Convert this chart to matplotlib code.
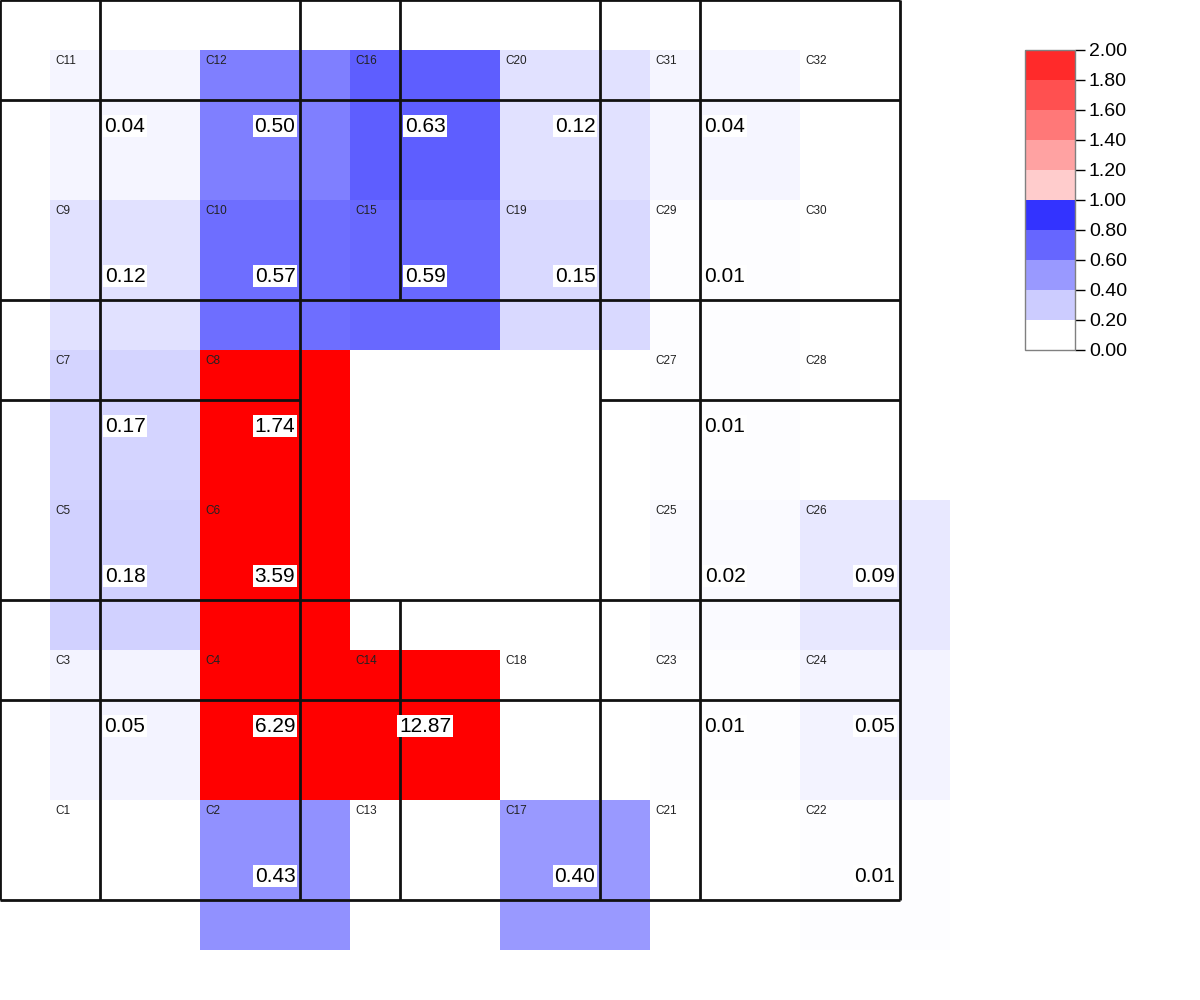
import numpy as np
import matplotlib
matplotlib.use('Agg')
import matplotlib.pyplot as plt
from matplotlib.colors import LinearSegmentedColormap, ListedColormap, BoundaryNorm, Normalize
from matplotlib.cm import ScalarMappable

plt.rcParams['font.family'] = ['Liberation Sans', 'DejaVu Sans']

nan = np.nan

# cell grid, top row first
CELL_NAMES = [
    ["C11", "C12", "C16", "C20", "C31", "C32"],
    ["C9", "C10", "C15", "C19", "C29", "C30"],
    ["C7", "C8", None, None, "C27", "C28"],
    ["C5", "C6", None, None, "C25", "C26"],
    ["C3", "C4", "C14", "C18", "C23", "C24"],
    ["C1", "C2", "C13", "C17", "C21", "C22"],
]
VALUES = [
    [0.04, 0.50, 0.63, 0.12, 0.04, nan],
    [0.12, 0.57, 0.59, 0.15, 0.01, nan],
    [0.17, 1.74, nan, nan, 0.01, nan],
    [0.18, 3.59, nan, nan, 0.02, 0.09],
    [0.05, 6.29, 12.87, nan, 0.01, 0.05],
    [nan, 0.43, nan, 0.40, nan, 0.01],
]

# floor plan walls: (position, start, end)
H_WALLS = [(0, 0, 900), (100, 0, 900), (300, 0, 900), (400, 0, 300), (400, 600, 900),
           (600, 0, 900), (700, 0, 900), (900, 0, 900)]
V_WALLS = [(0, 0, 900), (100, 0, 900), (300, 0, 900), (400, 0, 300), (400, 600, 900),
           (600, 0, 900), (700, 0, 900), (900, 0, 900)]

CB_BOUNDS = [0.0, 0.2, 0.4, 0.6, 0.8, 1.0, 1.2, 1.4, 1.6, 1.8, 2.0]
CB_COLORS = ['#ffffff', '#ccccff', '#9999ff', '#6666ff', '#3333ff',
             '#ffcccc', '#ffa2a2', '#ff7878', '#ff5050', '#ff2a2a']

CELL = 150
ORIGIN = 50

vals = np.ma.masked_invalid(np.array(VALUES, dtype=float))
nrow, ncol = vals.shape
xe = ORIGIN + CELL * np.arange(ncol + 1)
ye = ORIGIN + CELL * np.arange(nrow + 1)

cmap = LinearSegmentedColormap.from_list('wb', ['#ffffff', '#0000ff'])
cmap.set_over('#ff0000')
cmap.set_bad((1, 1, 1, 0))

fig = plt.figure(figsize=(12, 10), dpi=100)
ax = fig.add_axes([0, 0, 1, 1])
ax.set_xlim(0, 1200)
ax.set_ylim(1000, 0)
ax.axis('off')

ax.pcolormesh(xe, ye, vals, cmap=cmap, norm=Normalize(0, 1),
              edgecolors='none', antialiased=False, zorder=1)

for y, x0, x1 in H_WALLS:
    ax.hlines(y, x0, x1, color='#111111', lw=2, zorder=2)
for x, y0, y1 in V_WALLS:
    ax.vlines(x, y0, y1, color='#111111', lw=2, zorder=2)

for i in range(nrow):
    for j in range(ncol):
        name = CELL_NAMES[i][j]
        if name is None:
            continue
        x0, y0 = xe[j], ye[i]
        ax.text(x0 + 5, y0 + 11, name, fontsize=8.5, ha='left', va='center',
                color='#222222', zorder=3)
        v = VALUES[i][j]
        if not np.isnan(v):
            ax.text(x0 + CELL / 2, y0 + CELL / 2 + 1, f'{v:.2f}', fontsize=15,
                    ha='center', va='center', zorder=4,
                    bbox=dict(boxstyle='square,pad=0.08', fc='white', ec='none'))

cax = fig.add_axes([1025 / 1200, 0.65, 50 / 1200, 0.30])
sm = ScalarMappable(norm=BoundaryNorm(CB_BOUNDS, len(CB_COLORS)),
                    cmap=ListedColormap(CB_COLORS))
cb = fig.colorbar(sm, cax=cax, ticks=CB_BOUNDS, format='%.2f')
cb.outline.set_edgecolor('#808080')
cb.outline.set_linewidth(1)
cax.tick_params(length=7, width=1, pad=3, labelsize=14)

fig.savefig('out.png', dpi=100)
